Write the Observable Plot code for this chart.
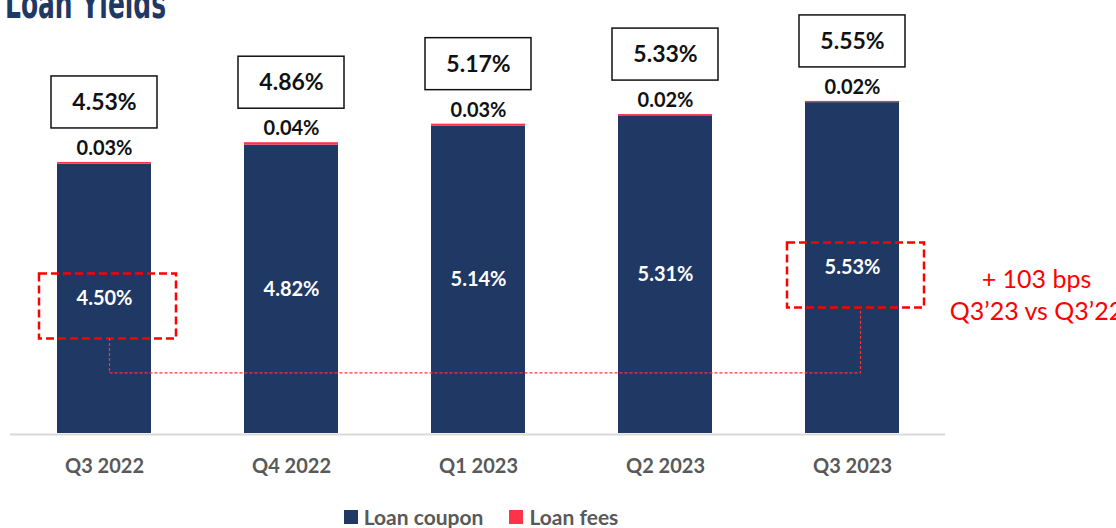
<!DOCTYPE html>
<html>
<head>
<meta charset="utf-8">
<script src="https://cdn.jsdelivr.net/npm/d3@7"></script>
<script src="https://cdn.jsdelivr.net/npm/@observablehq/plot@0.6"></script>
<style>
  html, body { margin: 0; padding: 0; background: #fff; }
  #wrap { position: relative; width: 1116px; height: 528px; overflow: hidden; font-family: Lato, "Open Sans", sans-serif; }
  #title { position: absolute; left: 5px; top: -17px; font-family: "DejaVu Sans Condensed", "Liberation Sans Narrow", sans-serif; font-weight: 700; font-size: 42px; line-height: 42px; color: #1f3864; white-space: nowrap; transform-origin: 0 0; transform: scaleX(0.66); }
  #chart svg { display: block; }
  #legend { width: 962px; display: flex; justify-content: center; gap: 26px; margin-top: 7px; height: 20px; align-items: center; }
  .item { display: flex; align-items: center; gap: 6px; font-size: 21px; font-weight: 700; color: #595959; line-height: 20px; }
  .sw { width: 14px; height: 14px; display: inline-block; }
</style>
</head>
<body>
<div id="wrap">
  <div id="chart"></div>
  <div id="legend"></div>
  <div id="title">Loan Yields</div>
</div>
<script>
// ---- data ----
const quarters = ["Q3 2022", "Q4 2022", "Q1 2023", "Q2 2023", "Q3 2023"];
const loanCoupon = [4.50, 4.82, 5.14, 5.31, 5.53];
const loanFees = [0.03, 0.04, 0.03, 0.02, 0.02];
const loanYield = [4.53, 4.86, 5.17, 5.33, 5.55];
const seriesNames = ["Loan coupon", "Loan fees"];
const seriesColors = ["#203864", "#ff3347"];
const compared = ["Q3 2022", "Q3 2023"];
const compareLabel = "Q3’23 vs Q3’22";

// ---- tables built from the arrays ----
const rows = quarters.flatMap((q, i) => [
  {quarter: q, series: seriesNames[0], value: loanCoupon[i]},
  {quarter: q, series: seriesNames[1], value: loanFees[i]}
]);
const totals = quarters.map((q, i) => ({quarter: q, coupon: loanCoupon[i], fees: loanFees[i], total: loanYield[i]}));
const highlighted = totals.filter(d => compared.includes(d.quarter));
const [from, to] = highlighted;
const bps = Math.round((to.coupon - from.coupon) * 100);
const pct = v => v.toFixed(2) + "%";

// bracket-shaped connector drawn between the two highlighted labels
function bracket(context) {
  let pts = [];
  return {
    areaStart() {}, areaEnd() {},
    lineStart() { pts = []; },
    point(x, y) { pts.push([x, y]); },
    lineEnd() {
      const [a, b] = pts;
      const ya = a[1] + 39, yb = b[1] + 41;
      const low = Math.max(ya, yb) + 35;
      context.moveTo(a[0] + 5, ya);
      context.lineTo(a[0] + 5, low);
      context.lineTo(b[0] + 8, low);
      context.lineTo(b[0] + 8, yb);
    }
  };
}

const bold = {fontFamily: "Lato", fontWeight: 700};

const chart = Plot.plot({
  width: 1116,
  height: 500,
  marginLeft: 10,
  marginRight: 171,
  marginTop: 74,
  marginBottom: 67,
  style: {fontFamily: "Lato", background: "white", overflow: "visible"},
  x: {domain: quarters, axis: null, paddingInner: 0.5, paddingOuter: 0.25},
  y: {domain: [0, 6], axis: null},
  color: {domain: seriesNames, range: seriesColors},
  marks: [
    Plot.ruleY([0], {stroke: "#d9d9d9", strokeWidth: 2, dy: 1}),
    Plot.barY(rows, {x: "quarter", y: "value", fill: "series"}),
    // coupon labels
    Plot.text(totals, {x: "quarter", y: d => d.coupon / 2, text: d => pct(d.coupon), fill: "white", fontSize: 20, ...bold}),
    // fee labels
    Plot.text(totals, {x: "quarter", y: "total", dy: -14, text: d => pct(d.fees), fill: "#111", fontSize: 20, ...bold}),
    // total boxes
    Plot.barY(totals, {x: "quarter", y1: "total", y2: "total", insetLeft: -6, insetRight: -6, insetTop: -86, insetBottom: 34, fill: "white", stroke: "#111", strokeWidth: 1.5}),
    Plot.text(totals, {x: "quarter", y: "total", dy: -60, text: d => pct(d.total), fill: "#111", fontSize: 23, ...bold}),
    // highlight boxes
    Plot.barY(highlighted, {x: "quarter", y1: d => d.coupon / 2, y2: d => d.coupon / 2, insetLeft: -18, insetRight: -25, insetTop: -25, insetBottom: -40, fill: "none", stroke: "#ff0000", strokeWidth: 2.5, strokeDasharray: "8,4"}),
    // connector
    Plot.link([{from, to}], {x1: d => d.from.quarter, y1: d => d.from.coupon / 2, x2: d => d.to.quarter, y2: d => d.to.coupon / 2, curve: bracket, stroke: "#ff3333", strokeWidth: 1.2, strokeDasharray: "3,2"}),
    // annotation
    Plot.text([to], {x: "quarter", y: d => d.coupon / 2, dx: 184, dy: 26, text: d => `+ ${bps} bps\n${compareLabel}`, fill: "#ff0000", fontSize: 25, lineHeight: 1.28, fontFamily: "Lato"}),
    // category labels
    Plot.text(quarters, {x: d => d, frameAnchor: "bottom", dy: 39, text: d => d, fill: "#595959", fontSize: 20, ...bold})
  ]
});
document.getElementById("chart").appendChild(chart);

const legend = document.getElementById("legend");
seriesNames.forEach((name, i) => {
  const item = document.createElement("div");
  item.className = "item";
  const sw = document.createElement("span");
  sw.className = "sw";
  sw.style.background = seriesColors[i];
  const label = document.createElement("span");
  label.textContent = name;
  item.appendChild(sw);
  item.appendChild(label);
  legend.appendChild(item);
});
</script>
</body>
</html>
